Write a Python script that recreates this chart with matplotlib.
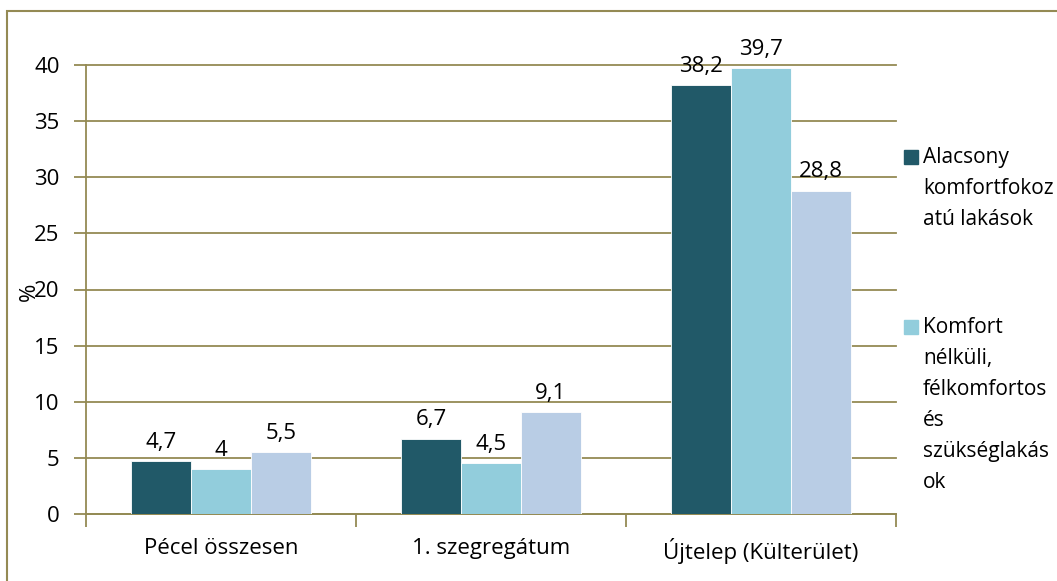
import matplotlib
matplotlib.use("Agg")
import matplotlib.pyplot as plt
from matplotlib.patches import Rectangle
import numpy as np

plt.rcParams['font.family'] = ['Open Sans', 'DejaVu Sans']

# ── Data ──────────────────────────────────────────────────────────
categories = ["Pécel összesen", "1. szegregátum", "Újtelep (Külterület)"]
alacsony = [4.7, 6.7, 38.2]
komfort_nelkuli = [4.0, 4.5, 39.7]
harmadik = [5.5, 9.1, 28.8]

series_labels = ["Alacsony\nkomfortfokoz\natú lakások",
                 "Komfort\nnélküli,\nfélkomfortos\nés\nszükséglakás\nok"]
colors = ["#215968", "#92cddc", "#b9cde5"]
yticks = [0, 5, 10, 15, 20, 25, 30, 35, 40]

OLIVE = "#948a54"
FS = 16


def fmt(v):
    s = f"{v:.1f}".replace(".", ",")
    return s[:-2] if s.endswith(",0") else s


# ── Figure ────────────────────────────────────────────────────────
W, H = 1057, 581
fig = plt.figure(figsize=(W / 100, H / 100), dpi=100)
ax = fig.add_axes([86 / W, 1 - 514 / H, 810 / W, 449 / H])

# outer chart border (right/bottom run off the picture)
fig.patches.append(Rectangle((7 / W, -0.1), 1.2, 1 - 11 / H + 0.1,
                             transform=fig.transFigure, fill=False,
                             edgecolor=OLIVE, linewidth=1.5))

x = np.arange(len(categories))
bw = 2 / 9
all_series = [alacsony, komfort_nelkuli, harmadik]
for i, (vals, col) in enumerate(zip(all_series, colors)):
    pos = x + (i - 1) * bw
    bars = ax.bar(pos, vals, width=bw, color=col, edgecolor="white",
                  linewidth=0.6, zorder=3)
    for b, v in zip(bars, vals):
        ax.annotate(fmt(v), (b.get_x() + b.get_width() / 2, v),
                    xytext=(0, 6), textcoords="offset points",
                    ha="center", va="bottom", fontsize=FS)

ax.set_xlim(-0.5, 2.5)
ax.set_ylim(0, 40)
ax.set_yticks(yticks)
ax.set_yticklabels([str(t) for t in yticks], fontsize=FS)
ax.set_xticks(x)
ax.set_xticklabels(categories, fontsize=FS)
ax.set_xticks([-0.5, 0.5, 1.5, 2.5], minor=True)

ax.grid(axis="y", color=OLIVE, linewidth=1.3, zorder=0)
for gl in ax.get_ygridlines():
    gl.set_clip_on(False)
for s in ["top", "right"]:
    ax.spines[s].set_visible(False)
for s in ["left", "bottom"]:
    ax.spines[s].set_color(OLIVE)
    ax.spines[s].set_linewidth(1.3)
ax.tick_params(axis="y", length=9, color=OLIVE, width=1.3, pad=10)
ax.tick_params(axis="x", which="major", length=0, pad=17)
ax.tick_params(axis="x", which="minor", length=9, color=OLIVE, width=1.3)

# the "%" axis title sits over the "20" tick label, as in the original
fig.text(29 / W, 1 - 292 / H, "%", rotation=90, ha="center", va="center",
         fontsize=FS)

# legend (third series is cut off in the original)
leg_tops = [147, 317]
for lbl, col, top in zip(series_labels, colors, leg_tops):
    fig.patches.append(Rectangle((904 / W, 1 - (top + 17) / H), 14 / W, 14 / H,
                                 transform=fig.transFigure, color=col))
    fig.text(923 / W, 1 - top / H, lbl, ha="left", va="top", fontsize=15,
             linespacing=1.62)

fig.savefig("out.png", dpi=100)
